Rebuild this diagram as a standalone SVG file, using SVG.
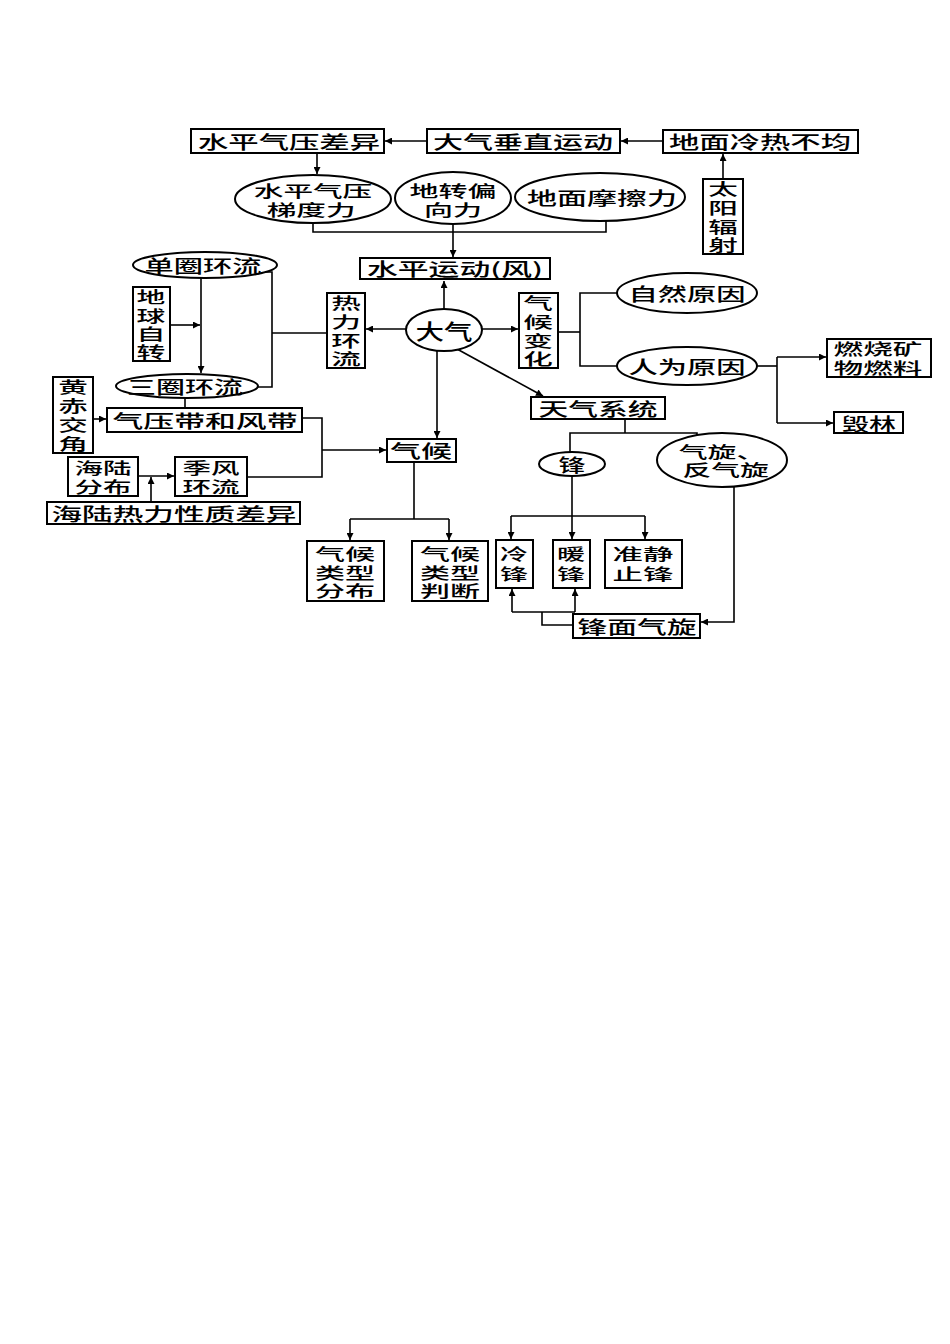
<svg xmlns="http://www.w3.org/2000/svg" width="950" height="1344" viewBox="0 0 950 1344">
<style>
.b{fill:#fff;stroke:#000;stroke-width:2}
.c{fill:none;stroke:#000;stroke-width:1.6}
.a{fill:none;stroke:#000;stroke-width:1.6;marker-end:url(#ah)}
text{font-family:"Noto Sans CJK SC","Noto Sans CJK JP",sans-serif;font-size:18px;font-weight:500;fill:#000;text-anchor:middle;dominant-baseline:central}
.s{font-size:16px}
.big{font-size:21px}
</style>
<defs>
<marker id="ah" viewBox="0 0 10 10" refX="10" refY="5" markerWidth="9" markerHeight="7" markerUnits="userSpaceOnUse" orient="auto">
<path d="M0,0 L10,5 L0,10 z" fill="#000"/>
</marker>
</defs>
<rect width="950" height="1344" fill="#fff"/>

<g id="connectors">
<line class="a" x1="663" y1="141" x2="621" y2="141"/>
<line class="a" x1="427" y1="141" x2="385" y2="141"/>
<line class="a" x1="723" y1="179" x2="723" y2="154"/>
<line class="a" x1="317" y1="153" x2="317" y2="174"/>
<polyline class="c" points="313,223 313,232 606,232 606,220"/>
<line class="a" x1="453" y1="224" x2="453" y2="257"/>
<line class="a" x1="444" y1="309" x2="444" y2="281"/>
<line class="a" x1="407" y1="329" x2="366" y2="329"/>
<line class="a" x1="482" y1="329" x2="518" y2="329"/>
<line class="a" x1="457" y1="349" x2="543" y2="396"/>
<line class="a" x1="437" y1="351" x2="437" y2="438"/>
<line class="a" x1="201" y1="278" x2="201" y2="373"/>
<line class="a" x1="170" y1="325" x2="200" y2="325"/>
<polyline class="c" points="266,272 272,272 272,387 256,387"/>
<line class="c" x1="272" y1="333" x2="327" y2="333"/>
<line class="c" x1="185" y1="397" x2="185" y2="408"/>
<line class="a" x1="93" y1="419" x2="106" y2="419"/>
<polyline class="c" points="302,418 322,418 322,477 247,477"/>
<line class="a" x1="322" y1="450" x2="386" y2="450"/>
<line class="a" x1="138" y1="476" x2="174" y2="476"/>
<line class="a" x1="151" y1="502" x2="151" y2="477"/>
<line class="c" x1="414" y1="462" x2="414" y2="519"/>
<line class="c" x1="350" y1="519" x2="449" y2="519"/>
<line class="a" x1="350" y1="519" x2="350" y2="540"/>
<line class="a" x1="449" y1="519" x2="449" y2="540"/>
<line class="c" x1="558" y1="332" x2="580" y2="332"/>
<polyline class="c" points="618,293 580,293 580,366 617,366"/>
<line class="c" x1="757" y1="366" x2="777" y2="366"/>
<line class="c" x1="777" y1="357" x2="777" y2="423"/>
<line class="a" x1="777" y1="357" x2="826" y2="357"/>
<line class="a" x1="777" y1="423" x2="833" y2="423"/>
<line class="c" x1="625" y1="419" x2="625" y2="433"/>
<polyline class="c" points="570,452 570,433 697,433 697,437"/>
<line class="a" x1="572" y1="476" x2="572" y2="539"/>
<line class="c" x1="511" y1="516" x2="645" y2="516"/>
<line class="a" x1="511" y1="516" x2="511" y2="539"/>
<line class="a" x1="645" y1="516" x2="645" y2="539"/>
<polyline class="a" points="734,486 734,622 701,622"/>
<polyline class="c" points="573,625 542,625 542,612"/>
<line class="c" x1="512" y1="612" x2="575" y2="612"/>
<line class="a" x1="512" y1="612" x2="512" y2="589"/>
<line class="a" x1="575" y1="612" x2="575" y2="589"/>
</g>

<g id="n-spcy"><rect class="b" x="191" y="129" width="193" height="24"/><text x="289" y="141" textLength="182" lengthAdjust="spacingAndGlyphs">水平气压差异</text></g>
<g id="n-dqczyd"><rect class="b" x="427" y="129" width="193" height="24"/><text x="523" y="141" textLength="180" lengthAdjust="spacingAndGlyphs">大气垂直运动</text></g>
<g id="n-dmlr"><rect class="b" x="663" y="130" width="195" height="23"/><text x="760" y="141" textLength="182" lengthAdjust="spacingAndGlyphs">地面冷热不均</text></g>
<g id="n-tyfs"><rect class="b" x="703" y="179" width="40" height="75"/>
<text class="s" transform="translate(723,0) scale(1.85,1)"><tspan x="0" y="188">太</tspan><tspan x="0" y="207">阳</tspan><tspan x="0" y="226">辐</tspan><tspan x="0" y="244">射</tspan></text></g>
<g id="n-tdl"><ellipse class="b" cx="313" cy="199" rx="78" ry="24"/>
<text class="s" transform="translate(313,0) scale(1.85,1)"><tspan x="0" y="190">水平气压</tspan><tspan x="-1" y="209">梯度力</tspan></text></g>
<g id="n-dzpx"><ellipse class="b" cx="453" cy="198" rx="58" ry="26"/>
<text class="s" transform="translate(453,0) scale(1.81,1)"><tspan x="0" y="190">地转偏</tspan><tspan x="0" y="209">向力</tspan></text></g>
<g id="n-mcl"><ellipse class="b" cx="600" cy="197" rx="85" ry="24"/><text x="602" y="197" textLength="150" lengthAdjust="spacingAndGlyphs">地面摩擦力</text></g>
<g id="n-spyd"><rect class="b" x="360" y="258" width="190" height="21"/><text x="455" y="268" textLength="176" lengthAdjust="spacingAndGlyphs">水平运动(风)</text></g>
<g id="n-dqhl"><ellipse class="b" cx="205" cy="265" rx="72" ry="13"/><text x="203" y="265" textLength="117" lengthAdjust="spacingAndGlyphs">单圈环流</text></g>
<g id="n-sqhl"><ellipse class="b" cx="187" cy="386" rx="71" ry="12"/><text x="185" y="386" textLength="116" lengthAdjust="spacingAndGlyphs">三圈环流</text></g>
<g id="n-dqzz"><rect class="b" x="133" y="287" width="37" height="74"/>
<text class="s" transform="translate(151,0) scale(1.8,1)"><tspan x="0" y="296">地</tspan><tspan x="0" y="315">球</tspan><tspan x="0" y="333">自</tspan><tspan x="0" y="351">转</tspan></text></g>
<g id="n-rlhl"><rect class="b" x="327" y="293" width="38" height="75"/>
<text class="s" transform="translate(346,0) scale(1.85,1)"><tspan x="0" y="302">热</tspan><tspan x="0" y="321">力</tspan><tspan x="0" y="340">环</tspan><tspan x="0" y="358">流</tspan></text></g>
<g id="n-dq"><ellipse class="b" cx="444" cy="330" rx="38" ry="21"/><text class="big" x="444" y="330" textLength="57" lengthAdjust="spacingAndGlyphs">大气</text></g>
<g id="n-qhbh"><rect class="b" x="519" y="293" width="39" height="75"/>
<text class="s" transform="translate(538,0) scale(1.85,1)"><tspan x="0" y="302">气</tspan><tspan x="0" y="321">候</tspan><tspan x="0" y="340">变</tspan><tspan x="0" y="358">化</tspan></text></g>
<g id="n-zryy"><ellipse class="b" cx="687" cy="293" rx="70" ry="20"/><text x="687" y="293" textLength="117" lengthAdjust="spacingAndGlyphs">自然原因</text></g>
<g id="n-rwyy"><ellipse class="b" cx="687" cy="366" rx="70" ry="19"/><text x="687" y="366" textLength="117" lengthAdjust="spacingAndGlyphs">人为原因</text></g>
<g id="n-rskw"><rect class="b" x="827" y="339" width="104" height="38"/>
<text class="s" transform="translate(878,0) scale(1.85,1)"><tspan x="0" y="348">燃烧矿</tspan><tspan x="0" y="367">物燃料</tspan></text></g>
<g id="n-hl"><rect class="b" x="834" y="412" width="69" height="21"/><text x="869" y="423" textLength="54" lengthAdjust="spacingAndGlyphs">毁林</text></g>
<g id="n-tqxt"><rect class="b" x="531" y="397" width="134" height="22"/><text x="598" y="408" textLength="119" lengthAdjust="spacingAndGlyphs">天气系统</text></g>
<g id="n-feng"><ellipse class="b" cx="572" cy="464" rx="33" ry="12"/><text x="572" y="464" textLength="27" lengthAdjust="spacingAndGlyphs">锋</text></g>
<g id="n-qx"><ellipse class="b" cx="722" cy="460" rx="65" ry="27"/>
<text class="s" transform="translate(722,0) scale(1.8,1)"><tspan x="0" y="451">气旋、</tspan><tspan x="2" y="469">反气旋</tspan></text></g>
<g id="n-lf"><rect class="b" x="496" y="540" width="37" height="48"/>
<text class="s" transform="translate(514,0) scale(1.75,1)"><tspan x="0" y="553">冷</tspan><tspan x="0" y="573">锋</tspan></text></g>
<g id="n-nf"><rect class="b" x="553" y="540" width="37" height="48"/>
<text class="s" transform="translate(571,0) scale(1.75,1)"><tspan x="0" y="553">暖</tspan><tspan x="0" y="573">锋</tspan></text></g>
<g id="n-zjzf"><rect class="b" x="605" y="540" width="77" height="48"/>
<text class="s" transform="translate(643,0) scale(1.9,1)"><tspan x="0" y="553">准静</tspan><tspan x="0" y="573">止锋</tspan></text></g>
<g id="n-fmqx"><rect class="b" x="573" y="614" width="127" height="24"/><text x="637" y="626" textLength="119" lengthAdjust="spacingAndGlyphs">锋面气旋</text></g>
<g id="n-hcjj"><rect class="b" x="53" y="377" width="40" height="76"/>
<text class="s" transform="translate(73,0) scale(1.85,1)"><tspan x="0" y="386">黄</tspan><tspan x="0" y="405">赤</tspan><tspan x="0" y="424">交</tspan><tspan x="0" y="443">角</tspan></text></g>
<g id="n-qyd"><rect class="b" x="107" y="408" width="195" height="24"/><text x="205" y="420" textLength="185" lengthAdjust="spacingAndGlyphs">气压带和风带</text></g>
<g id="n-hlfb"><rect class="b" x="68" y="457" width="70" height="39"/>
<text class="s" transform="translate(103,0) scale(1.78,1)"><tspan x="0" y="467">海陆</tspan><tspan x="0" y="486">分布</tspan></text></g>
<g id="n-jfhl"><rect class="b" x="175" y="457" width="72" height="39"/>
<text class="s" transform="translate(211,0) scale(1.78,1)"><tspan x="0" y="467">季风</tspan><tspan x="0" y="486">环流</tspan></text></g>
<g id="n-hlrl"><rect class="b" x="47" y="502" width="253" height="22"/><text x="174" y="513" textLength="245" lengthAdjust="spacingAndGlyphs">海陆热力性质差异</text></g>
<g id="n-qh"><rect class="b" x="387" y="439" width="69" height="23"/><text x="421" y="450" textLength="62" lengthAdjust="spacingAndGlyphs">气候</text></g>
<g id="n-lxfb"><rect class="b" x="307" y="541" width="77" height="60"/>
<text class="s" transform="translate(345,0) scale(1.875,1)"><tspan x="0" y="553">气候</tspan><tspan x="0" y="572">类型</tspan><tspan x="0" y="590">分布</tspan></text></g>
<g id="n-lxpd"><rect class="b" x="412" y="541" width="76" height="60"/>
<text class="s" transform="translate(450,0) scale(1.875,1)"><tspan x="0" y="553">气候</tspan><tspan x="0" y="572">类型</tspan><tspan x="0" y="590">判断</tspan></text></g>
</svg>
